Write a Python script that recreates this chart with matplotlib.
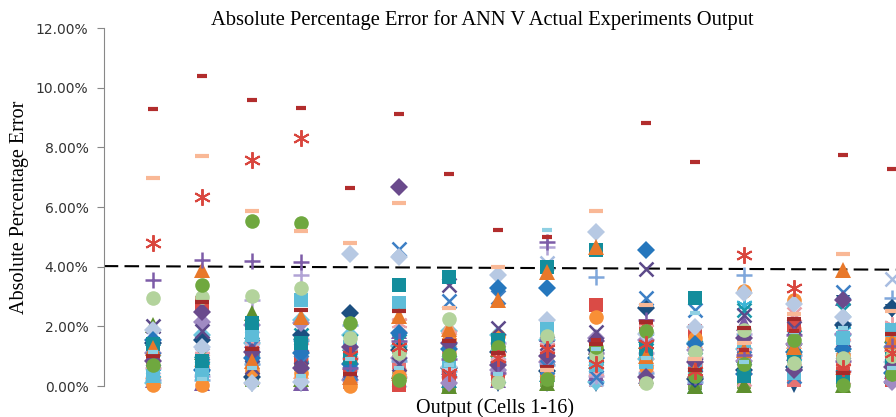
import numpy as np
import matplotlib
matplotlib.use("Agg")
import matplotlib.pyplot as plt

cells = np.arange(1, 17)

# absolute percentage error (%) per series, cells 1-16
dash_dred = [9.28, 10.40, 9.58, 9.33, 6.65, 9.13, 7.10, 5.22, 4.98, 1.55, 8.82, 7.52, 1.20, 1.85, 7.75, 7.27]
dash_salmon = [6.97, 7.72, 5.85, 5.20, 4.80, 6.14, 2.60, 3.99, 0.55, 5.85, 2.70, 0.90, 1.45, 2.40, 4.42, 2.50]
star_red = [4.79, 6.34, 7.58, 8.31, 1.05, 1.30, 0.45, 0.95, 1.25, 0.75, 1.40, 0.50, 4.38, 3.30, 0.60, 1.10]
circ_green = [0.70, 3.38, 5.54, 5.46, 2.10, 0.20, 1.05, 1.30, 0.25, 1.30, 1.85, 0.35, 0.75, 1.55, 0.05, 0.40]
circ_lgreen = [2.96, 3.00, 3.02, 3.28, 1.60, 1.12, 2.25, 0.14, 1.68, 1.05, 0.10, 1.15, 1.88, 0.77, 0.94, 1.00]
plus_purple = [3.55, 4.22, 4.20, 4.17, 0.60, 1.50, 0.90, 0.45, 4.84, 1.10, 2.20, 0.30, 1.05, 1.70, 0.85, 1.35]
tri_orange = [1.27, 3.90, 0.85, 2.30, 0.30, 2.35, 1.90, 2.90, 3.83, 4.67, 1.00, 0.55, 1.20, 1.30, 3.90, 1.50]
dia_dpurple = [0.85, 2.49, 1.15, 0.60, 1.30, 6.68, 1.45, 0.70, 1.00, 1.50, 0.30, 0.80, 1.60, 0.55, 2.88, 0.65]
sq_teal = [1.40, 0.85, 2.10, 1.45, 0.95, 3.39, 3.65, 1.55, 4.00, 4.55, 1.25, 2.95, 0.35, 1.00, 0.30, 0.90]
sq_sky = [0.35, 0.40, 1.70, 2.88, 1.30, 2.78, 0.85, 1.30, 1.90, 0.70, 0.80, 0.60, 1.50, 0.43, 1.60, 1.88]
dia_blue = [1.54, 0.55, 0.95, 1.10, 0.75, 1.77, 1.25, 3.28, 3.28, 0.95, 4.56, 1.40, 0.40, 1.15, 1.25, 0.45]
dia_steel = [1.88, 1.32, 0.10, 0.14, 4.42, 4.33, 0.65, 3.72, 2.21, 5.17, 1.75, 1.99, 3.12, 2.75, 2.31, 0.80]
x_blue = [0.90, 0.70, 1.35, 0.80, 0.45, 4.60, 2.86, 3.00, 0.65, 0.30, 2.95, 2.55, 0.95, 0.35, 3.16, 1.25]
x_dpurple = [2.00, 1.85, 0.65, 0.98, 0.55, 0.74, 3.40, 1.94, 1.45, 1.82, 3.92, 0.70, 2.38, 1.95, 1.15, 0.55]
circ_orange = [0.03, 0.05, 0.53, 0.45, 0.00, 0.35, 1.55, 1.68, 0.35, 2.32, 0.65, 1.60, 3.20, 2.88, 1.04, 1.60]
star_pink = [0.75, 1.00, 1.37, 1.30, 1.10, 2.10, 1.70, 1.00, 1.30, 0.50, 1.90, 0.85, 1.35, 0.85, 1.45, 2.05]
dia_lav = [1.10, 2.15, 2.04, 2.10, 0.20, 0.95, 0.10, 0.55, 0.80, 1.60, 1.55, 1.20, 0.85, 1.40, 1.75, 0.15]
dia_navy = [1.45, 1.54, 0.30, 1.70, 2.46, 1.20, 0.60, 1.15, 0.50, 1.20, 2.60, 0.25, 0.55, 0.65, 2.05, 2.60]
sq_red = [0.97, 2.78, 1.10, 0.95, 0.35, 0.05, 0.35, 0.25, 0.35, 2.70, 2.00, 1.85, 1.10, 2.05, 0.40, 0.20]
tri_olive = [2.05, 1.15, 2.44, 0.25, 1.00, 0.50, 0.00, 1.25, 0.10, 1.30, 1.50, 0.00, 0.05, 1.60, 0.05, 1.70]
plus_lblue = [0.20, 0.20, 0.75, 1.55, 2.05, 0.85, 0.50, 0.80, 0.70, 3.66, 0.45, 0.15, 3.72, 1.05, 2.10, 2.95]
tri_salmon = [0.50, 0.90, 0.30, 0.50, 0.82, 0.45, 2.00, 0.60, 1.10, 0.95, 1.20, 1.55, 0.65, 1.50, 0.65, 1.40]
plus_lav = [0.60, 0.35, 2.88, 3.73, 0.95, 0.30, 0.30, 1.45, 4.67, 0.35, 1.10, 0.95, 1.75, 0.60, 0.50, 1.20]
x_teal = [1.25, 0.60, 0.95, 1.70, 1.50, 1.50, 1.20, 0.35, 0.55, 1.00, 1.60, 1.30, 2.55, 1.65, 2.55, 0.70]
x_steel = [0.25, 1.05, 1.60, 1.20, 0.70, 0.20, 0.80, 1.15, 4.12, 0.25, 0.50, 1.00, 1.40, 1.20, 1.30, 3.60]
star_cyan = [0.45, 0.65, 0.95, 0.70, 1.20, 1.00, 0.25, 1.35, 0.95, 0.60, 1.60, 0.45, 2.70, 1.00, 1.85, 0.30]
x_pink = [0.50, 0.85, 1.20, 1.40, 0.35, 2.05, 1.55, 0.70, 1.20, 0.80, 0.70, 0.40, 0.25, 2.40, 0.30, 0.95]
dash_dred_long = [1.00, 2.80, 1.25, 2.55, 0.40, 2.50, 1.50, 1.10, 0.65, 1.40, 2.15, 0.55, 1.95, 2.25, 0.45, 1.75]
tri_navy_down = [0.15, 1.45, 0.05, 0.05, 0.10, 0.10, 0.25, 0.05, 0.05, 0.05, 0.15, 0.00, 0.55, 0.00, 2.80, 2.50]
dash_sky = [1.15, 0.25, 0.60, 0.35, 0.90, 0.60, 0.70, 0.40, 5.23, 1.25, 0.95, 2.45, 0.80, 1.80, 1.95, 0.60]
sq_olive = [0.60, 0.45, 0.20, 0.75, 0.60, 0.25, 0.05, 0.95, 0.20, 1.10, 1.35, 0.10, 0.15, 1.25, 0.20, 1.10]
circ_salmon = [0.30, 0.75, 0.45, 0.90, 0.85, 0.55, 1.15, 0.50, 0.75, 0.40, 1.10, 0.65, 0.45, 1.90, 0.75, 1.55]
tri_teal = [1.60, 1.20, 1.85, 1.80, 1.45, 1.60, 0.20, 1.05, 0.40, 0.85, 1.70, 0.00, 1.05, 0.90, 1.40, 0.35]
sq_pink = [0.85, 0.55, 1.00, 1.00, 0.15, 0.80, 0.95, 1.45, 0.60, 0.20, 0.25, 0.75, 0.35, 0.20, 0.80, 0.25]
dia_sky = [0.10, 1.70, 1.45, 2.20, 1.70, 1.35, 1.85, 1.70, 1.55, 0.15, 0.90, 1.45, 1.25, 0.55, 1.70, 1.30]
tri_purple = [0.20, 0.10, 1.55, 0.10, 0.50, 1.85, 0.65, 0.20, 1.75, 0.45, 0.35, 0.30, 2.10, 1.10, 2.95, 0.50]

# dashed trend line (%) at start and end of the axis
trend_x = [0, 16.07]
trend_y = [4.02, 3.90]

ast = (6, 2, 0)
series = [
    (tri_navy_down, 'v', '#1c4f80', 10, 1),
    (sq_olive, 's', '#7aa450', 10, 1),
    (circ_salmon, 'o', '#f6a57d', 10.5, 1),
    (tri_teal, '^', '#1b8fa0', 11, 1),
    (sq_pink, 's', '#e57373', 10, 1),
    (dia_sky, 'D', '#6ec6de', 9, 1),
    (tri_purple, '^', '#7b5aa6', 11, 1),
    (x_pink, 'x', '#e8a0a8', 10, 1.8),
    (star_cyan, ast, '#3ab5d6', 12, 1.4),
    (x_steel, 'x', '#a8bde1', 10, 1.8),
    (x_teal, 'x', '#1897a9', 10, 1.8),
    (plus_lav, '+', '#b1a3d5', 11, 1.8),
    (tri_salmon, '^', '#f7a37c', 11, 1),
    (plus_lblue, '+', '#7fa7db', 11, 1.8),
    (tri_olive, '^', '#5e8f2e', 11, 1),
    (sq_red, 's', '#da4b46', 10, 1),
    (dia_navy, 'D', '#1c4f80', 9, 1),
    (dia_lav, 'D', '#a08bc3', 9, 1),
    (star_pink, ast, '#e9a2a9', 12, 1.4),
    (circ_orange, 'o', '#f88f36', 10.5, 1),
    (x_dpurple, 'x', '#5d4a8a', 10, 1.8),
    (x_blue, 'x', '#3c7fc5', 10, 1.8),
    (dia_steel, 'D', '#b7c9e3', 9, 1),
    (dia_blue, 'D', '#2577bd', 9, 1),
    (sq_sky, 's', '#5dbcd8', 10, 1),
    (sq_teal, 's', '#138d9c', 10, 1),
    (dia_dpurple, 'D', '#6a4a8c', 9, 1),
    (tri_orange, '^', '#e8782a', 11, 1),
    (plus_purple, '+', '#7d5ca8', 11, 1.8),
    (circ_lgreen, 'o', '#b3d39c', 10.5, 1),
    (circ_green, 'o', '#6fa83f', 10.5, 1),
    (star_red, ast, '#d9463e', 12, 1.4),
    (dash_dred_long, '_', '#a52a2a', 10, 3),
    (dash_sky, '_', '#8fd0e3', 7, 3),
    (dash_salmon, '_', '#f9b896', 10, 3),
    (dash_dred, '_', '#b22d2d', 7, 3),
]

fig = plt.figure(figsize=(8.96, 4.17), dpi=100)
ax = fig.add_axes([0.1157, 0.0743, 0.935, 0.8585])

for vals, m, c, ms, mew in series:
    if m in ('x', '+', '_') or m == ast:
        ax.plot(cells, vals, linestyle='none', marker=m, color=c, markersize=ms,
                markeredgewidth=mew, clip_on=False, zorder=3)
    else:
        ax.plot(cells, vals, linestyle='none', marker=m, color=c, markersize=ms,
                markeredgewidth=0, clip_on=False, zorder=3)

ax.plot(trend_x, trend_y, color='black', linewidth=1.5, dashes=(7, 3), zorder=2.5)

ax.set_xlim(0, 17)
ax.set_ylim(0, 12)
ax.set_yticks(np.arange(0, 13, 2))
ax.set_yticklabels(['%.2f%%' % v for v in np.arange(0, 13, 2)], fontsize=10, color='#333333')
ax.set_xticks([])
for s in ['top', 'right', 'bottom']:
    ax.spines[s].set_visible(False)
ax.spines['left'].set_color('#888888')
ax.tick_params(axis='y', direction='out', length=5, color='#888888', pad=6)

fig.text(0.538, 0.952, 'Absolute Percentage Error for ANN V Actual Experiments Output',
         ha='center', va='center', fontsize=14.8, family='Liberation Serif')
fig.text(0.552, 0.022, 'Output (Cells 1-16)', ha='center', va='center',
         fontsize=14.5, family='Liberation Serif')
fig.text(0.022, 0.504, 'Absolute Percentage Error', ha='center', va='center',
         rotation=90, fontsize=14.5, family='Liberation Serif')

plt.savefig('out.png', dpi=100)
plt.close()
